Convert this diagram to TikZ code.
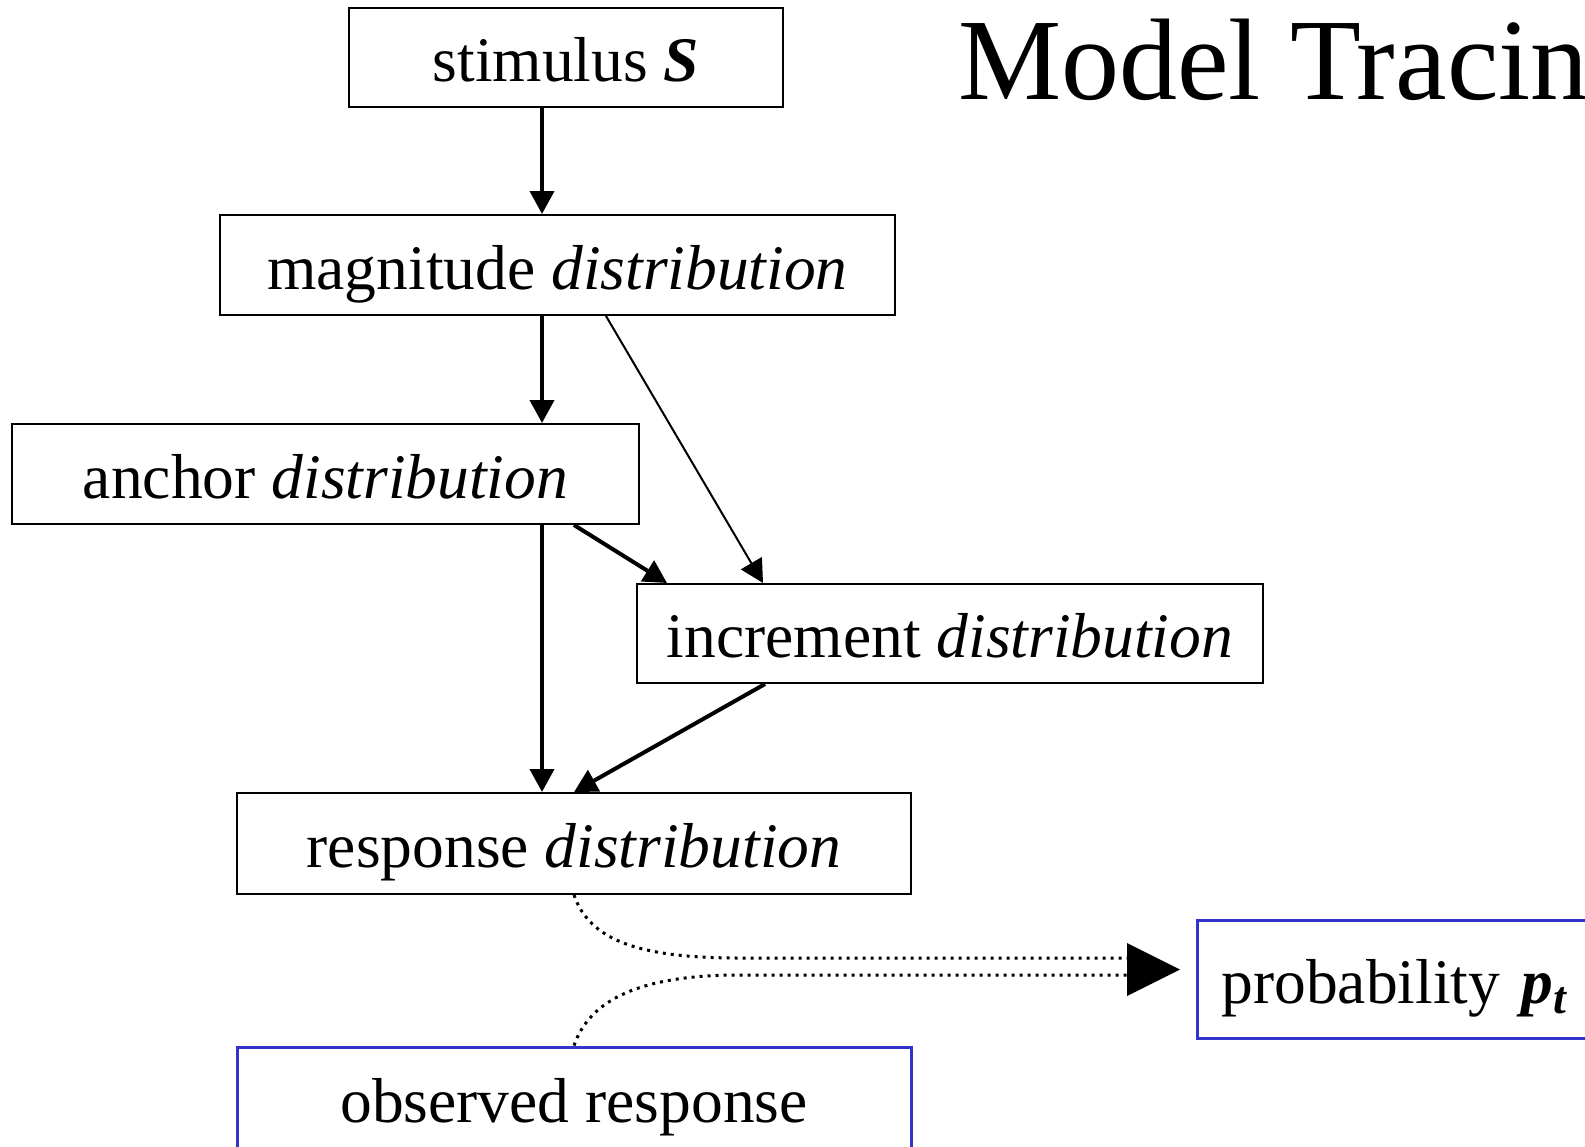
\documentclass[tikz,border=0pt]{standalone}
\usepackage{fontspec}
\setmainfont{Liberation Serif}
\usetikzlibrary{arrows.meta,calc}
\definecolor{obsblue}{RGB}{51,51,204}
\begin{document}
\begin{tikzpicture}[x=1pt,y=-1pt,
  box/.style={draw, line width=2pt, inner sep=0pt,
    font=\fontsize{63.5}{70}\selectfont, text height=52pt, text depth=4pt},
  obsbox/.style={box, draw=obsblue, line width=3pt},
  flow/.style={line width=4pt, -{Triangle[length=23pt,width=24pt]}},
  thinflow/.style={flow, line width=2pt},
  link/.style={line width=3pt, dash pattern=on 3pt off 5pt}]
\useasboundingbox (0,0) rectangle (1585,1146);
\clip (0,0) rectangle (1585,1146);

% title
\node[anchor=base west, inner sep=0pt, font=\fontsize{116}{120}\selectfont]
  (title) at (958,99) {Model Tracing};

% model boxes
\node[box, minimum width=434pt, minimum height=99pt] (stim) at (566,57.5)
  {stimulus \textbf{\textit{S}}};
\node[box, minimum width=675pt, minimum height=100pt] (mag) at (557.5,265)
  {magnitude \textit{distribution}};
\node[box, minimum width=627pt, minimum height=100pt] (anch) at (325.5,474)
  {anchor \textit{distribution}};
\node[box, minimum width=626pt, minimum height=99pt] (inc) at (950,633.5)
  {increment \textit{distribution}};
\node[box, minimum width=674pt, minimum height=101pt] (resp) at (574,843.5)
  {response \textit{distribution}};

% data boxes
\node[obsbox, minimum width=674pt, minimum height=102pt] (obs) at (574,1098)
  {observed response};
\node[obsbox, anchor=west, minimum height=118pt, text width=380pt,
  inner xsep=24pt, align=left] (prob) at (1196,979)
  {probability \textbf{\textit{p}}\raisebox{-10pt}{\fontsize{46}{46}\selectfont\bfseries\itshape t}};

% connector columns
\coordinate (xs) at (542,0);
\coordinate (xr) at (574,0);
\coordinate (xm) at (606,0);
\coordinate (xi) at (763,0);
\coordinate (xa) at (667,0);
\coordinate (xo) at (765,0);

\draw[flow] (stim.south -| xs) -- (mag.north -| xs);
\draw[flow] (mag.south -| xs) -- (anch.north -| xs);
\draw[thinflow] (mag.south -| xm) -- (inc.north -| xi);
\draw[flow] (anch.south -| xr) -- (inc.north -| xa);
\draw[flow] (anch.south -| xs) -- (resp.north -| xs);
\draw[flow] (inc.south -| xo) -- (resp.north -| xr);

% dotted comparison link into the probability
\coordinate (tipbase) at (1127,969.5);
\coordinate (ju) at (740,958);
\coordinate (jl) at (740,975);
\draw[link] (resp.south -| xr) .. controls +(16,46) and +(-100,0) .. (ju) -- (ju -| tipbase);
\draw[link] (obs.north -| xr) .. controls +(16,-46) and +(-100,0) .. (jl) -- (jl -| tipbase);
\fill (tipbase) ++(0,-26.5) -- ++(53,26.5) -- ++(-53,26.5) -- cycle;
\end{tikzpicture}
\end{document}
